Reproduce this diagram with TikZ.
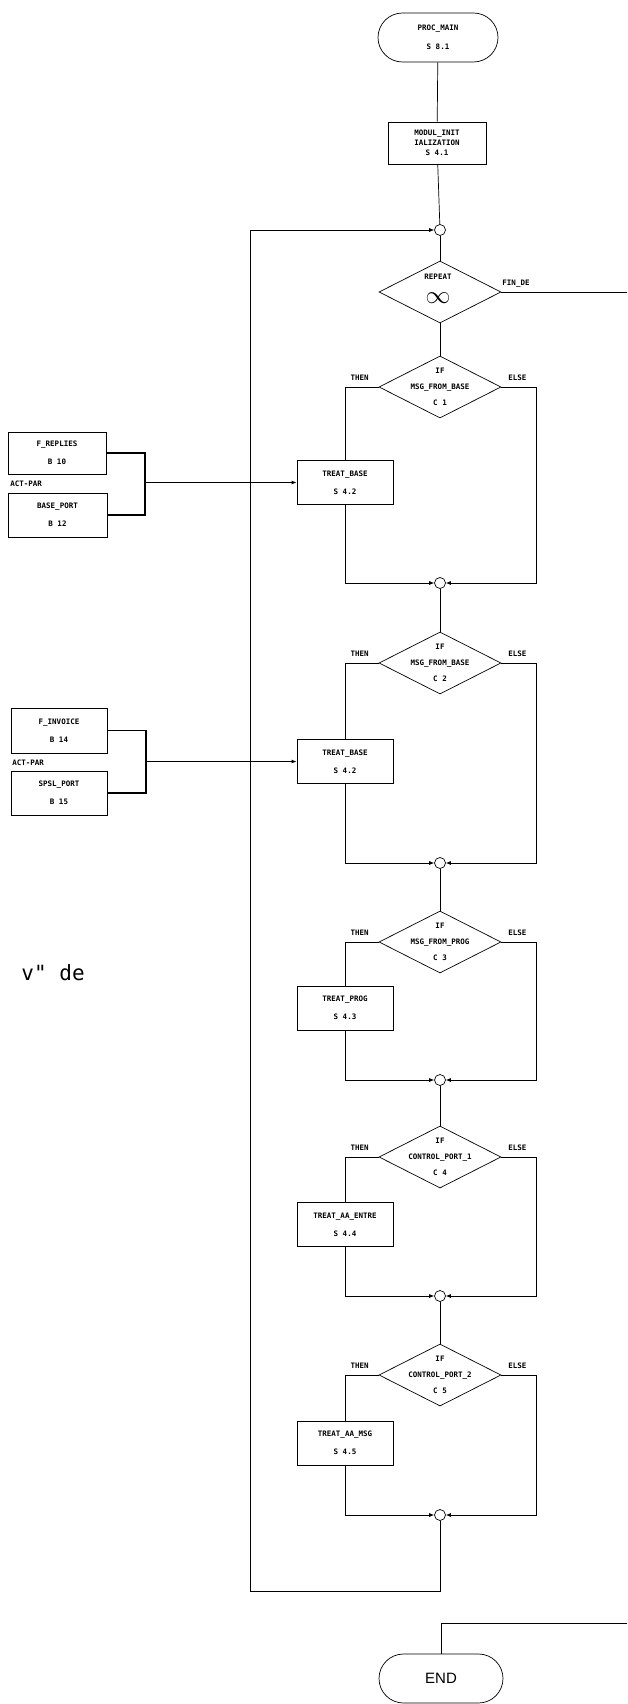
\documentclass[tikz,border=0pt]{standalone}
\usepackage{fontspec}
\setmonofont{DejaVu Sans Mono}
\setsansfont{Liberation Sans}
\newfontfamily\scanfont{DejaVu Sans Mono}
\usetikzlibrary{shapes.geometric,shapes.misc,arrows.meta}

\begin{document}
\begin{tikzpicture}[x=1pt, y=-1pt, line width=0.7pt,
    every node/.style={font=\ttfamily\bfseries\fontsize{7.5}{18}\selectfont},
    term/.style={draw, rounded rectangle, minimum width=120pt, minimum height=49pt, align=center, inner sep=0pt},
    proc/.style={draw, rectangle, minimum width=96pt, minimum height=44pt, align=center, inner sep=0pt},
    cond/.style={draw, diamond, minimum width=122pt, minimum height=62pt, inner sep=0pt},
    condtext/.style={align=center, inner sep=0pt, font=\ttfamily\bfseries\fontsize{7.5}{16}\selectfont},
    joint/.style={draw, circle, minimum size=11pt, inner sep=0pt},
    tag/.style={inner sep=0pt},
    flow/.style={-{Latex[length=5pt,width=4pt]}}]
    \useasboundingbox (0,0) rectangle (627,1704);

    % main line
    \node[term, font=\ttfamily\bfseries\fontsize{7.5}{19}\selectfont] (start) at (438,37.5) {PROC\_MAIN\\S 8.1};
    \node[proc, minimum width=98pt, minimum height=42pt, font=\ttfamily\bfseries\fontsize{7.5}{10}\selectfont] (init) at (437,143) {MODUL\_INIT\\IALIZATION\\S 4.1};
    \node[joint] (j0) at (440,230) {};
    \node[cond] (rep) at (440,292) {};
    \node[tag] (rept) at (438,277) {REPEAT};
    \node[tag, font=\fontsize{26}{26}\selectfont] (inf) at (438,298) {$\infty$};
    \node[tag] (fin) at (516,284) {FIN\_DE};

    \node[cond] (c1) at (440,387) {};
    \node[cond] (c2) at (440,663) {};
    \node[cond] (c3) at (440,942) {};
    \node[cond] (c4) at (440,1157) {};
    \node[cond] (c5) at (440,1375) {};
    \node[condtext] (c1t) at (c1) {IF\\MSG\_FROM\_BASE\\C 1};
    \node[condtext] (c2t) at (c2) {IF\\MSG\_FROM\_BASE\\C 2};
    \node[condtext] (c3t) at (c3) {IF\\MSG\_FROM\_PROG\\C 3};
    \node[condtext] (c4t) at (c4) {IF\\CONTROL\_PORT\_1\\C 4};
    \node[condtext] (c5t) at (c5) {IF\\CONTROL\_PORT\_2\\C 5};

    \node[proc] (b1) at (345,482.5) {TREAT\_BASE\\S 4.2};
    \node[proc] (b2) at (345,761.5) {TREAT\_BASE\\S 4.2};
    \node[proc] (b3) at (345,1008) {TREAT\_PROG\\S 4.3};
    \node[proc] (b4) at (345,1224.5) {TREAT\_AA\_ENTRE\\S 4.4};
    \node[proc] (b5) at (345,1443) {TREAT\_AA\_MSG\\S 4.5};

    \node[joint] (m1) at (440,583) {};
    \node[joint] (m2) at (440,863) {};
    \node[joint] (m3) at (440,1080) {};
    \node[joint] (m4) at (440,1296) {};
    \node[joint] (m5) at (440,1515) {};

    \coordinate (r1) at (536,583);
    \coordinate (r2) at (536,863);
    \coordinate (r3) at (536,1080);
    \coordinate (r4) at (536,1296);
    \coordinate (r5) at (536,1515);

    \foreach \i in {1,...,5} {
        \node[tag] (then\i) at ([xshift=-19pt,yshift=9pt]c\i.west) {THEN};
        \node[tag] (else\i) at ([xshift=16pt,yshift=9pt]c\i.east) {ELSE};
        \draw (c\i.west) -| (b\i.north);
        \draw[flow] (b\i.south) |- (m\i.west);
        \draw[flow] (c\i.east) -| (r\i) -- (m\i.east);
    }

    \draw (start) -- (init);
    \draw (init) -- (j0);
    \draw (j0) -- (rep);
    \draw (rep) -- (c1);
    \draw (m1) -- (c2);
    \draw (m2) -- (c3);
    \draw (m3) -- (c4);
    \draw (m4) -- (c5);

    % loop back
    \coordinate (lb) at (250,1591);
    \draw[flow] (m5) |- (lb) |- (j0);

    % exit
    \coordinate (ex1) at (627,292);
    \coordinate (ex2) at (627,1623);
    \draw (rep.east) -- (ex1);
    \node[term, minimum width=124pt, font=\sffamily\fontsize{15}{15}\selectfont] (end) at (441,1678.5) {END};
    \draw (end) |- (ex2);

    % parameters
    \node[proc, minimum width=98pt, minimum height=42pt] (fr) at (57,453) {F\_REPLIES\\B 10};
    \node[proc, minimum width=99pt] (bp) at (57.5,515) {BASE\_PORT\\B 12};
    \node[tag, anchor=west] (ap1) at (10,484) {ACT-PAR};
    \coordinate (br1) at (145,482.5);
    \draw[line width=1.5pt] (fr.east) -| (br1) |- (bp.east);
    \draw[flow, line width=1.5pt] (br1) -- (b1);

    \node[proc, minimum height=45pt] (fi) at (59,730.5) {F\_INVOICE\\B 14};
    \node[proc] (sp) at (59,793) {SPSL\_PORT\\B 15};
    \node[tag, anchor=west] (ap2) at (12,763) {ACT-PAR};
    \coordinate (br2) at (146,761.5);
    \draw[line width=1.5pt] (fi.east) -| (br2) |- (sp.east);
    \draw[flow, line width=1.5pt] (br2) -- (b2);

    \node[tag, anchor=base east, font=\scanfont\fontsize{21}{21}\selectfont] (frag) at (85,980) {v" de};
\end{tikzpicture}
\end{document}
